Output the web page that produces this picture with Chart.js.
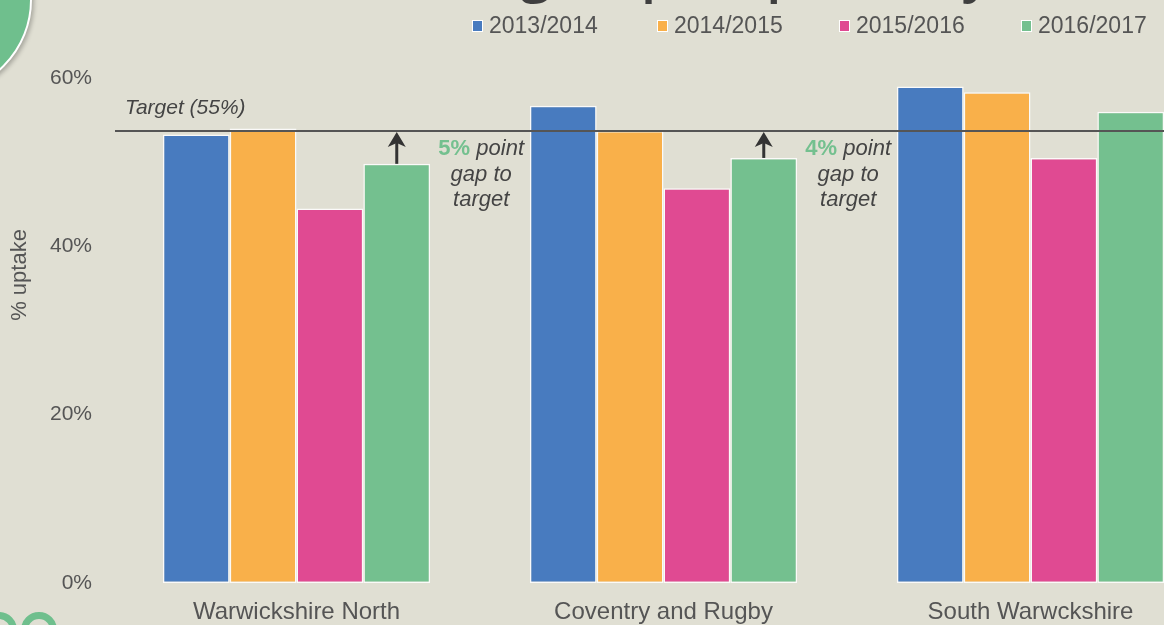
<!DOCTYPE html>
<html>
<head>
<meta charset="utf-8">
<script src="https://cdn.jsdelivr.net/npm/chart.js@4"></script>
<style>
    html, body { margin: 0; padding: 0; }
    body {
        width: 1164px;
        height: 625px;
        overflow: hidden;
        background: #e0dfd3;
        position: relative;
        font-family: "Liberation Sans", Arial, sans-serif;
    }
    #wrap { position: absolute; left: 0; top: 0; width: 1214px; height: 625px; }
    .logo {
        position: absolute;
        left: -156px; top: -94px;
        width: 184px; height: 184px;
        border-radius: 50%;
        background: #6fbf8d;
        border: 2px solid #fff;
        box-shadow: 2px 2px 4px rgba(0,0,0,0.25);
    }
    .ring {
        position: absolute;
        width: 22px; height: 22px;
        border: 7px solid #6fbf8d;
        border-radius: 50%;
    }
    #legend { position: absolute; left: 0; top: 0; width: 1164px; height: 50px; }
    .legend-item {
        position: absolute;
        top: 12px;
        font-size: 23px;
        color: #555;
        line-height: 26px;
        white-space: nowrap;
    }
    .legend-item i {
        display: inline-block;
        width: 9px; height: 10px;
        border: 1px solid #fff;
        margin-right: 6px;
        vertical-align: 1px;
    }
</style>
</head>
<body>
<div class="logo"></div>
<div class="ring" style="left:-19px; top:612px;"></div>
<div class="ring" style="left:21px; top:612px;"></div>
<div id="wrap"><canvas id="uptakeChart" width="1214" height="625"></canvas></div>
<div id="legend"></div>
<script>
// values (% uptake)
const groups = ['Warwickshire North', 'Coventry and Rugby', 'South Warwckshire'];
const years = ['2013/2014', '2014/2015', '2015/2016', '2016/2017'];
const uptake1314 = [53.3, 56.7, 59.0];
const uptake1415 = [54.0, 53.7, 58.3];
const uptake1516 = [44.5, 46.9, 50.5];
const uptake1617 = [49.8, 50.5, 56.0];
const yearColors = ['#487bbf', '#f9b04a', '#e04a92', '#74c08f'];
const yTicks = [0, 20, 40, 60];
const target = 53.7;
const targetLabel = 'Target (55%)';
const gapNotes = [
    { group: 0, pct: '5%', lines: [' point', 'gap to', 'target'] },
    { group: 1, pct: '4%', lines: [' point', 'gap to', 'target'] }
];
const titleText = 'At risk groups (uptake by CCG)';

const legendLeft = [472, 657, 839, 1021];

document.addEventListener('DOMContentLoaded', function() {
    const legend = document.getElementById('legend');
    years.forEach(function(y, i) {
        const item = document.createElement('div');
        item.className = 'legend-item';
        item.style.left = legendLeft[i] + 'px';
        item.innerHTML = '<i style="background:' + yearColors[i] + '"></i>' + y;
        legend.appendChild(item);
    });

    const overlay = {
        id: 'overlay',
        afterDatasetsDraw(chart) {
            const ctx = chart.ctx;
            const y = chart.scales.y;
            const area = chart.chartArea;
            const ty = y.getPixelForValue(target);

            ctx.save();
            // title, mostly cut off at the top
            ctx.fillStyle = '#3f3f3f';
            ctx.font = '600 54px "Open Sans"';
            ctx.textAlign = 'right';
            ctx.textBaseline = 'alphabetic';
            ctx.fillText(titleText, 1130, -9);

            // target line
            ctx.strokeStyle = '#555';
            ctx.lineWidth = 2;
            ctx.beginPath();
            ctx.moveTo(115, ty);
            ctx.lineTo(area.right, ty);
            ctx.stroke();

            ctx.fillStyle = '#444';
            ctx.font = 'italic 21px "Liberation Sans"';
            ctx.textAlign = 'left';
            ctx.textBaseline = 'middle';
            ctx.fillText(targetLabel, 125, ty - 23);

            // gap arrows and notes
            const meta = chart.getDatasetMeta(3);
            gapNotes.forEach(function(n) {
                const bar = meta.data[n.group];
                const half = bar.width / 2;
                ctx.strokeStyle = '#333';
                ctx.lineWidth = 3;
                ctx.beginPath();
                ctx.moveTo(bar.x, bar.y);
                ctx.lineTo(bar.x, ty + 10);
                ctx.stroke();
                ctx.fillStyle = '#333';
                ctx.beginPath();
                ctx.moveTo(bar.x, ty + 1);
                ctx.lineTo(bar.x - 9, ty + 16);
                ctx.lineTo(bar.x, ty + 12);
                ctx.lineTo(bar.x + 9, ty + 16);
                ctx.closePath();
                ctx.fill();

                const cx = bar.x + half + 51;
                ctx.font = 'italic 22px "Liberation Sans"';
                const pw = ctx.measureText(n.lines[0]).width;
                ctx.font = 'bold 22px "Liberation Sans"';
                const gw = ctx.measureText(n.pct).width;
                const x0 = cx - (pw + gw) / 2;
                ctx.textAlign = 'left';
                ctx.fillStyle = '#74c08f';
                ctx.fillText(n.pct, x0, ty + 18);
                ctx.fillStyle = '#444';
                ctx.font = 'italic 22px "Liberation Sans"';
                ctx.fillText(n.lines[0], x0 + gw, ty + 18);
                ctx.textAlign = 'center';
                ctx.fillText(n.lines[1], cx, ty + 44);
                ctx.fillText(n.lines[2], cx, ty + 69);
            });

            // y axis title
            ctx.translate(20, 275);
            ctx.rotate(-Math.PI / 2);
            ctx.fillStyle = '#555';
            ctx.font = '22px "Liberation Sans"';
            ctx.textAlign = 'center';
            ctx.textBaseline = 'middle';
            ctx.fillText('% uptake', 0, 0);
            ctx.restore();
        }
    };

    const seriesData = [uptake1314, uptake1415, uptake1516, uptake1617];
    const ctx = document.getElementById('uptakeChart').getContext('2d');
    new Chart(ctx, {
        type: 'bar',
        data: {
            labels: groups,
            datasets: years.map(function(y, i) {
                return {
                    label: y,
                    data: seriesData[i],
                    backgroundColor: yearColors[i],
                    borderColor: 'rgba(255,255,255,0.85)',
                    borderWidth: 1.5,
                    borderSkipped: false,
                    barPercentage: 1.0,
                    categoryPercentage: 0.7285
                };
            })
        },
        options: {
            responsive: false,
            animation: false,
            layout: { padding: { top: 78, right: 0, bottom: 0, left: 0 } },
            plugins: {
                legend: { display: false },
                tooltip: { enabled: false }
            },
            scales: {
                x: {
                    grid: { display: false, drawTicks: false },
                    border: { display: false },
                    ticks: {
                        color: '#555',
                        font: { family: 'Liberation Sans', size: 24 },
                        padding: 15
                    },
                    afterFit(scale) { scale.height = 42; }
                },
                y: {
                    min: 0,
                    max: 60,
                    afterBuildTicks(scale) {
                        scale.ticks = yTicks.map(function(v) { return { value: v }; });
                    },
                    grid: { display: false, drawTicks: false },
                    border: { display: false },
                    ticks: {
                        color: '#555',
                        font: { family: 'Liberation Sans', size: 21 },
                        padding: 21,
                        callback: function(v) { return v + '%'; }
                    },
                    afterFit(scale) { scale.width = 113; }
                }
            }
        },
        plugins: [overlay]
    });
});
</script>
</body>
</html>
